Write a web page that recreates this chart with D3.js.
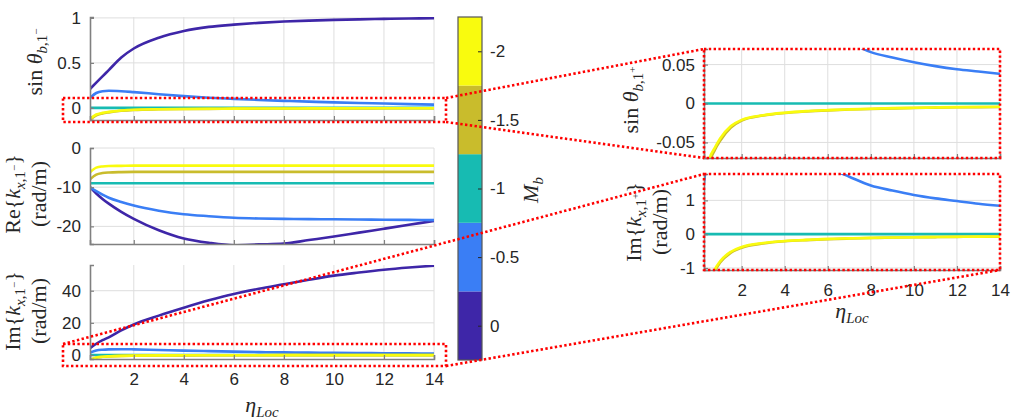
<!DOCTYPE html>
<html>
<head>
<meta charset="utf-8">
<script src="https://cdn.jsdelivr.net/npm/d3@7"></script>
<style>
  html, body { margin: 0; padding: 0; background: #fff; }
  svg text { fill: #262626; }
</style>
</head>
<body>
<svg id="chart" width="1031" height="420"></svg>
<script>
// eta_Loc sample points
const eta = [0.25, 0.5, 0.75, 1, 1.5, 2, 3, 4, 5, 6, 7, 8, 9, 10, 11, 12, 13, 14];

// M_b values for the five curves and their colours
const machValues = [0, -0.5, -1, -1.5, -2];
const machColors = ["#3e26a8", "#3a7ef5", "#17bbb2", "#c9bc2c", "#f9fb0e"];

// sin theta_{b,1-}  (top left)
const sinMinus_0   = [0.21, 0.28, 0.35, 0.42, 0.56, 0.66, 0.78, 0.855, 0.9, 0.925, 0.945, 0.96, 0.97, 0.978, 0.984, 0.989, 0.993, 0.996];
const sinMinus_05  = [0.11, 0.165, 0.185, 0.19, 0.185, 0.175, 0.152, 0.13, 0.113, 0.1, 0.088, 0.078, 0.069, 0.061, 0.054, 0.048, 0.042, 0.036];
const sinMinus_1   = [0, 0, 0, 0, 0, 0, 0, 0, 0, 0, 0, 0, 0, 0, 0, 0, 0, 0];
const sinMinus_15  = [-0.135, -0.082, -0.062, -0.05, -0.033, -0.023, -0.016, -0.013, -0.011, -0.009, -0.008, -0.007, -0.0065, -0.006, -0.0055, -0.005, -0.0048, -0.0045];
const sinMinus_2   = [-0.12, -0.074, -0.056, -0.045, -0.03, -0.021, -0.015, -0.012, -0.01, -0.0085, -0.0075, -0.0067, -0.006, -0.0055, -0.005, -0.0047, -0.0044, -0.0042];

// Re{k_{x,1-}} rad/m  (middle left)
const reK_0   = [-10, -11.6, -13, -14.2, -16.3, -18.1, -21, -23.1, -24.2, -24.8, -24.6, -24.4, -23.5, -22.6, -21.6, -20.6, -19.6, -18.6];
const reK_05  = [-10, -11, -11.9, -12.7, -13.8, -14.7, -16, -16.9, -17.4, -17.8, -18, -18.1, -18.15, -18.2, -18.25, -18.3, -18.35, -18.4];
const reK_1   = [-9, -9, -9, -9, -9, -9, -9, -9, -9, -9, -9, -9, -9, -9, -9, -9, -9, -9];
const reK_15  = [-8, -6.8, -6.4, -6.25, -6.15, -6.1, -6.1, -6.1, -6.1, -6.1, -6.1, -6.1, -6.1, -6.1, -6.1, -6.1, -6.1, -6.1];
const reK_2   = [-6.2, -5, -4.7, -4.6, -4.55, -4.5, -4.5, -4.5, -4.5, -4.5, -4.5, -4.5, -4.5, -4.5, -4.5, -4.5, -4.5, -4.5];

// Im{k_{x,1-}} rad/m  (bottom left)
const imMinus_0   = [4.2, 7, 9.2, 11, 15.3, 19, 24.5, 29.4, 34, 38, 41.2, 44, 46.8, 49.4, 51.3, 53, 54.4, 55.6];
const imMinus_05  = [1.5, 2.8, 3.3, 3.5, 3.6, 3.5, 3.1, 2.7, 2.4, 2.1, 1.8, 1.6, 1.45, 1.3, 1.2, 1.1, 1, 0.9];
const imMinus_1   = [0, 0, 0, 0, 0, 0, 0, 0, 0, 0, 0, 0, 0, 0, 0, 0, 0, 0];
const imMinus_15  = [-3.2, -1.7, -1.15, -0.9, -0.58, -0.42, -0.29, -0.22, -0.18, -0.15, -0.13, -0.115, -0.1, -0.093, -0.087, -0.082, -0.077, -0.073];
const imMinus_2   = [-3, -1.6, -1.1, -0.85, -0.55, -0.4, -0.27, -0.21, -0.17, -0.15, -0.125, -0.11, -0.098, -0.09, -0.084, -0.078, -0.074, -0.07];

// sin theta_{b,1+}  (top right, zoomed)
const sinPlus_05  = [0.11, 0.165, 0.185, 0.19, 0.185, 0.175, 0.152, 0.13, 0.11, 0.095, 0.079, 0.066, 0.059, 0.053, 0.048, 0.044, 0.041, 0.038];
const sinPlus_1   = [0, 0, 0, 0, 0, 0, 0, 0, 0, 0, 0, 0, 0, 0, 0, 0, 0, 0];
const sinPlus_15  = [-0.13, -0.078, -0.06, -0.048, -0.031, -0.022, -0.0155, -0.0122, -0.0102, -0.0088, -0.0078, -0.007, -0.0063, -0.0058, -0.0053, -0.0049, -0.0046, -0.0044];
const sinPlus_2   = [-0.12, -0.072, -0.057, -0.045, -0.029, -0.021, -0.015, -0.0118, -0.0098, -0.0085, -0.0075, -0.0067, -0.006, -0.0055, -0.0051, -0.0047, -0.0044, -0.0042];

// Im{k_{x,1+}} rad/m  (bottom right, zoomed)
const imPlus_05  = [1.5, 2.8, 3.3, 3.5, 3.6, 3.5, 3.1, 2.7, 2.3, 1.97, 1.7, 1.44, 1.29, 1.16, 1.06, 0.98, 0.9, 0.84];
const imPlus_1   = [0, 0, 0, 0, 0, 0, 0, 0, 0, 0, 0, 0, 0, 0, 0, 0, 0, 0];
const imPlus_15  = [-3.2, -1.6, -1.1, -0.84, -0.55, -0.4, -0.275, -0.21, -0.175, -0.15, -0.13, -0.115, -0.1, -0.092, -0.086, -0.08, -0.075, -0.072];
const imPlus_2   = [-3, -1.5, -1.05, -0.8, -0.52, -0.38, -0.26, -0.2, -0.17, -0.14, -0.125, -0.11, -0.097, -0.09, -0.083, -0.078, -0.074, -0.07];

const xTicks = [2, 4, 6, 8, 10, 12, 14];
const xDomain = [0.25, 14];

const svg = d3.select("#chart");
const sansFont = "'Liberation Sans', Arial, sans-serif";
const serifFont = "'Liberation Serif', 'DejaVu Serif', serif";
const gridColor = "#dedede";
const axisColor = "#808080";
const dotRed = "#ff0000";

// label sizes (main / subscript / sub-superscript)
const LS = 22, SS = 15, TS = 11;

// write a math-ish label with italic parts and sub/superscripts
// parts: [text, italic, offset(px up), size]
function mathText(sel, parts) {
  let prev = 0;
  parts.forEach(([t, it, off, size]) => {
    sel.append("tspan")
      .attr("dy", prev - off)
      .attr("font-style", it ? "italic" : "normal")
      .attr("font-size", size + "px")
      .text(t);
    prev = off;
  });
}

function drawPanel(p) {
  const x = d3.scaleLinear().domain(xDomain).range([p.x0, p.x1]);
  const y = d3.scaleLinear().domain(p.yDomain).range([p.y1, p.y0]);
  const g = svg.append("g");

  // grid
  g.selectAll(".gx").data(xTicks).join("line")
    .attr("x1", d => x(d)).attr("x2", d => x(d))
    .attr("y1", p.y0).attr("y2", p.y1)
    .attr("stroke", gridColor).attr("stroke-width", 1);
  g.selectAll(".gy").data(p.yTicks).join("line")
    .attr("x1", p.x0).attr("x2", p.x1)
    .attr("y1", d => y(d)).attr("y2", d => y(d))
    .attr("stroke", gridColor).attr("stroke-width", 1);

  // curves
  const clipId = "clip" + p.id;
  svg.append("clipPath").attr("id", clipId)
    .append("rect").attr("x", p.x0).attr("y", p.y0)
    .attr("width", p.x1 - p.x0).attr("height", p.y1 - p.y0);
  const line = d3.line()
    .x((d, i) => x(eta[i]))
    .y(d => y(d))
    .curve(d3.curveMonotoneX);
  const lines = g.append("g").attr("clip-path", `url(#${clipId})`);
  p.series.forEach(s => {
    lines.append("path")
      .datum(s.values)
      .attr("fill", "none")
      .attr("stroke", machColors[machValues.indexOf(s.mach)])
      .attr("stroke-width", 2.6)
      .attr("stroke-linejoin", "round")
      .attr("d", line);
  });

  // axes (left + bottom, ticks inward)
  const yAxis = d3.axisLeft(y).tickValues(p.yTicks).tickSize(-4).tickPadding(9)
    .tickFormat(d => String(d));
  const ya = g.append("g").attr("transform", `translate(${p.x0},0)`).call(yAxis);
  const xAxis = d3.axisBottom(x).tickValues(xTicks).tickSize(-4).tickPadding(14)
    .tickFormat(p.xLabels ? (d => String(d)) : () => "");
  const xa = g.append("g").attr("transform", `translate(0,${p.y1})`).call(xAxis);
  [ya, xa].forEach(a => {
    a.select(".domain").attr("stroke", axisColor).attr("stroke-width", 1.6);
    a.selectAll(".tick line").attr("stroke", axisColor).attr("stroke-width", 1.2);
    a.selectAll(".tick text").attr("font-family", sansFont).attr("font-size", "17px").attr("fill", "#262626");
  });
  return { x, y };
}

// panels
drawPanel({ id: "A", x0: 90, x1: 434, y0: 17, y1: 120, yDomain: [-0.135, 1.01], yTicks: [0, 0.5, 1],
  series: [
    { mach: 0, values: sinMinus_0 }, { mach: -0.5, values: sinMinus_05 }, { mach: -1, values: sinMinus_1 },
    { mach: -1.5, values: sinMinus_15 }, { mach: -2, values: sinMinus_2 }] });
drawPanel({ id: "B", x0: 90, x1: 434, y0: 148, y1: 244, yDomain: [-24.5, 0], yTicks: [-20, -10, 0],
  series: [
    { mach: 0, values: reK_0 }, { mach: -0.5, values: reK_05 }, { mach: -1, values: reK_1 },
    { mach: -1.5, values: reK_15 }, { mach: -2, values: reK_2 }] });
drawPanel({ id: "C", x0: 90, x1: 434, y0: 265, y1: 359, yDomain: [-2.5, 56], yTicks: [0, 20, 40], xLabels: true,
  series: [
    { mach: 0, values: imMinus_0 }, { mach: -0.5, values: imMinus_05 }, { mach: -1, values: imMinus_1 },
    { mach: -1.5, values: imMinus_15 }, { mach: -2, values: imMinus_2 }] });
drawPanel({ id: "D", x0: 704, x1: 1000, y0: 49, y1: 158, yDomain: [-0.07, 0.07], yTicks: [-0.05, 0, 0.05],
  series: [
    { mach: -0.5, values: sinPlus_05 }, { mach: -1, values: sinPlus_1 },
    { mach: -1.5, values: sinPlus_15 }, { mach: -2, values: sinPlus_2 }] });
drawPanel({ id: "E", x0: 704, x1: 1000, y0: 174, y1: 270, yDomain: [-1.06, 1.78], yTicks: [-1, 0, 1], xLabels: true,
  series: [
    { mach: -0.5, values: imPlus_05 }, { mach: -1, values: imPlus_1 },
    { mach: -1.5, values: imPlus_15 }, { mach: -2, values: imPlus_2 }] });

// y labels
function yLabel(cx, cy, parts) {
  const t = svg.append("text")
    .attr("transform", `translate(${cx},${cy}) rotate(-90)`)
    .attr("text-anchor", "middle")
    .attr("font-family", serifFont);
  mathText(t, parts);
}
yLabel(42, 62, [["sin ", false, 0, LS], ["θ", true, 0, LS], ["b", true, -5, SS], [",1", false, -5, SS], ["−", false, 2, TS]]);
yLabel(20, 194, [["Re{", false, 0, LS], ["k", true, 0, LS], ["x", true, -5, SS], [",1", false, -5, SS], ["−", false, 2, TS], ["}", false, 0, LS]]);
yLabel(46, 194, [["(rad/m)", false, 0, LS]]);
yLabel(20, 311, [["Im{", false, 0, LS], ["k", true, 0, LS], ["x", true, -5, SS], [",1", false, -5, SS], ["−", false, 2, TS], ["}", false, 0, LS]]);
yLabel(46, 311, [["(rad/m)", false, 0, LS]]);
yLabel(638, 100, [["sin ", false, 0, LS], ["θ", true, 0, LS], ["b", true, -5, SS], [",1", false, -5, SS], ["+", false, 2, TS]]);
yLabel(641, 222, [["Im{", false, 0, LS], ["k", true, 0, LS], ["x", true, -5, SS], [",1", false, -5, SS], ["+", false, 2, TS], ["}", false, 0, LS]]);
yLabel(667, 222, [["(rad/m)", false, 0, LS]]);

// x labels
function xLabel(cx, by) {
  const t = svg.append("text").attr("x", cx).attr("y", by)
    .attr("text-anchor", "middle").attr("font-family", serifFont);
  mathText(t, [["η", true, 0, LS], ["Loc", true, -5, SS]]);
}
xLabel(262, 412);
xLabel(852, 318);

// colorbar
const cb = { x0: 458, x1: 482, y0: 17, y1: 360 };
const cbScale = d3.scaleLinear().domain([0.25, -2.25]).range([cb.y1, cb.y0]);
const cbg = svg.append("g");
cbg.selectAll("rect.bin").data(machValues).join("rect")
  .attr("x", cb.x0).attr("width", cb.x1 - cb.x0)
  .attr("y", d => cbScale(d - 0.25))
  .attr("height", d => cbScale(d + 0.25) - cbScale(d - 0.25))
  .attr("fill", (d, i) => machColors[i]);
const cbAxis = d3.axisRight(cbScale).tickValues(machValues).tickSize(-4).tickPadding(8)
  .tickFormat(d => String(d));
const cba = cbg.append("g").attr("transform", `translate(${cb.x1},0)`).call(cbAxis);
cba.select(".domain").remove();
cba.selectAll(".tick line").attr("stroke", "#262626");
cba.selectAll(".tick text").attr("font-family", sansFont).attr("font-size", "17px").attr("fill", "#262626");
cbg.append("rect").attr("x", cb.x0).attr("y", cb.y0)
  .attr("width", cb.x1 - cb.x0).attr("height", cb.y1 - cb.y0)
  .attr("fill", "none").attr("stroke", "#555").attr("stroke-width", 1.2);
const cbl = svg.append("text")
  .attr("transform", "translate(538,190) rotate(-90)")
  .attr("text-anchor", "middle").attr("font-family", serifFont);
mathText(cbl, [["M", true, 0, LS], ["b", true, -5, SS]]);

// zoom annotation (red dotted)
const ann = svg.append("g").attr("fill", "none").attr("stroke", dotRed)
  .attr("stroke-width", 2.6).attr("stroke-dasharray", "2.4,2.4");
const boxes = [
  { x0: 63, y0: 98, x1: 446, y1: 122 },
  { x0: 63, y0: 344, x1: 446, y1: 366 },
  { x0: 704, y0: 49, x1: 1000, y1: 158 },
  { x0: 704, y0: 174, x1: 1000, y1: 270 }
];
boxes.forEach(b => ann.append("rect").attr("x", b.x0).attr("y", b.y0)
  .attr("width", b.x1 - b.x0).attr("height", b.y1 - b.y0));
const links = [
  [boxes[0].x1, boxes[0].y0, boxes[2].x0, boxes[2].y0],
  [boxes[0].x1, boxes[0].y1, boxes[2].x0, boxes[2].y1],
  [boxes[1].x0, boxes[1].y0, boxes[3].x0, boxes[3].y0],
  [boxes[1].x1, boxes[1].y1, boxes[3].x1, boxes[3].y1]
];
links.forEach(([a, b, c, d]) => ann.append("line").attr("x1", a).attr("y1", b).attr("x2", c).attr("y2", d));
</script>
</body>
</html>
